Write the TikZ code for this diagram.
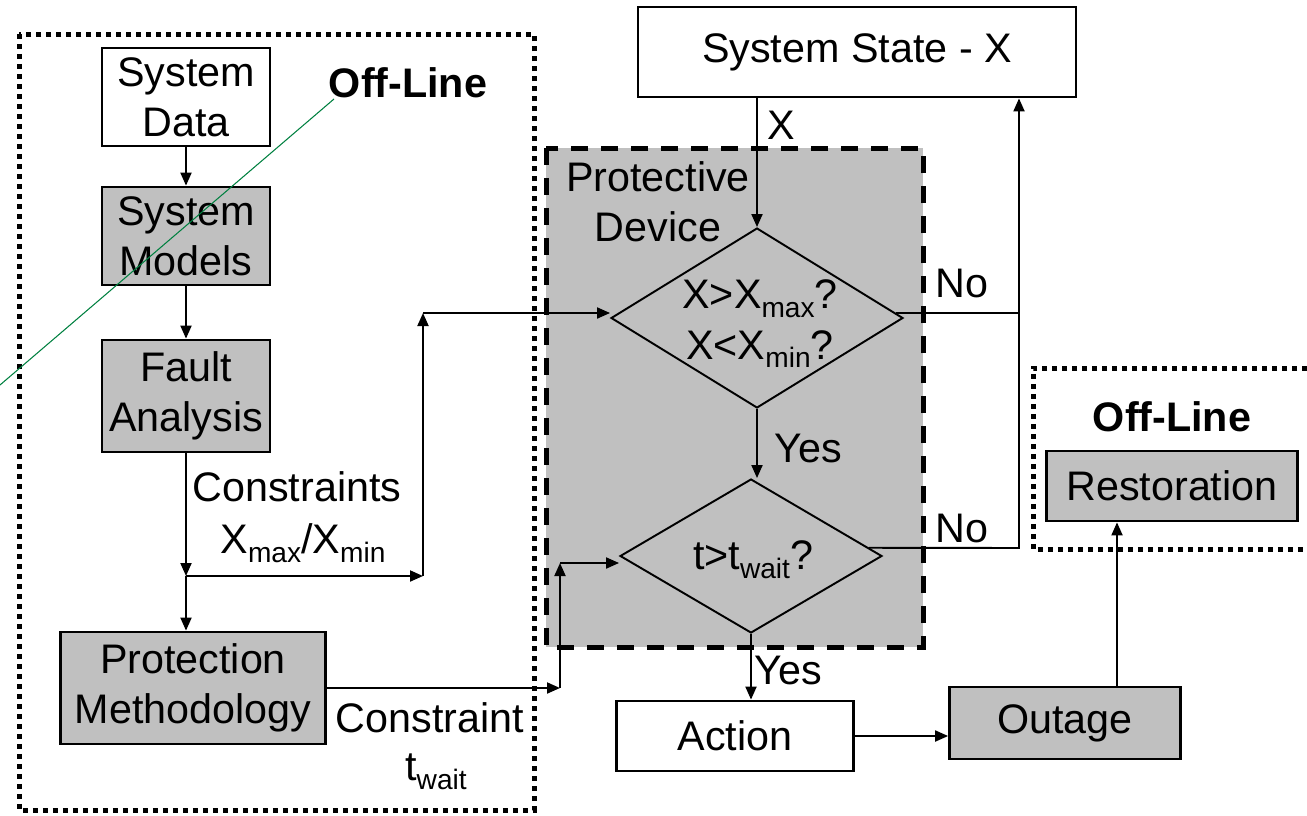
\documentclass[tikz,border=0pt]{standalone}
\usepackage{fontspec}
\setmainfont{Liberation Sans}
\usepackage{tikz}
\usetikzlibrary{shapes.geometric}
\usetikzlibrary{arrows.meta}
\definecolor{boxgray}{RGB}{192,192,192}
\definecolor{markgreen}{RGB}{0,128,64}
\newcommand{\lowtxt}[1]{\raisebox{-5pt}{\fontsize{16}{16}\selectfont #1}}

\begin{document}
\begin{tikzpicture}[x=0.02cm,y=-0.02cm]
			\tikzset{txt/.style = {font=\fontsize{23.5}{28.5}\selectfont, inner sep=0pt, align=center}}
			\tikzset{block/.style = {txt,shape=rectangle,draw,line width=1.6pt,fill=white}}
			\tikzset{blockGray/.style = {block,fill=boxgray}}
			\tikzset{decision/.style = {txt,shape=diamond,draw,line width=1.1pt,fill=boxgray}}
			\tikzset{edge/.style = {-{Triangle[length=0.26cm,width=0.22cm]}, line width=1.1pt}}
			\tikzset{link/.style = {line width=1.1pt}}
			\tikzset{offline/.style = {line width=0.1cm, dash pattern=on 0.1cm off 0.1cm}}
			\tikzset{device/.style = {fill=boxgray, line width=0.1cm, dash pattern=on 0.34cm off 0.26cm}}
			
			\useasboundingbox (0,0) rectangle (1307,815);
			
			% frames
			\draw[offline] (19,34) rectangle (534,810);
			\draw[offline] (1307,368) -- (1033,368) -- (1033,549) -- (1307,549);
			\draw[device] (546,148) rectangle (923,647);
			
			% blocks
			\node[block, minimum width=3.36cm, minimum height=1.96cm] (sysdata) at (186,97) {System\\Data};
			\node[blockGray, minimum width=3.36cm, minimum height=1.96cm] (sysmod) at (186,236) {System\\Models};
			\node[blockGray, minimum width=3.36cm, minimum height=2.24cm] (fault) at (186,396) {Fault\\Analysis};
			\node[blockGray, minimum width=5.3cm, minimum height=2.24cm] (protmeth) at (193,688) {Protection\\Methodology};
			\node[block, minimum width=8.76cm, minimum height=1.8cm] (state) at (857,52) {System State - X};
			\node[block, minimum width=4.74cm, minimum height=1.4cm] (action) at (735,736) {Action};
			\node[blockGray, minimum width=4.62cm, minimum height=1.44cm] (outage) at (1065,723) {Outage};
			\node[blockGray, minimum width=5.02cm, minimum height=1.4cm] (restor) at (1172,486) {Restoration};
			
			% decisions (text set on top, so the diamonds keep their size)
			\node[decision, minimum width=5.84cm, minimum height=3.6cm] (limits) at (757,318) {};
			\node[txt] (limitstxt) at (760,324) {X>X\lowtxt{max}?\\X<X\lowtxt{min}?};
			\node[decision, minimum width=5.24cm, minimum height=3.08cm] (wait) at (751,556) {};
			\node[txt] (waittxt) at (753,560) {t>t\lowtxt{wait}?};
			
			% labels
			\node[txt, font=\bfseries\fontsize{23.5}{28.5}\selectfont] (offleft) at (408,83) {Off-Line};
			\node[txt, font=\bfseries\fontsize{23.5}{28.5}\selectfont] (offright) at (1172,417) {Off-Line};
			\node[txt] (devlbl) at (658,202) {Protective\\Device};
			\node[txt] (xlbl) at (781,125) {X};
			\node[txt] (conslbl) at (297,487) {Constraints};
			\node[txt] (xlimlbl) at (303,543) {X\lowtxt{max}/X\lowtxt{min}};
			\node[txt] (constlbl) at (430,718) {Constraint};
			\node[txt] (twaitlbl) at (436,772) {t\lowtxt{wait}};
			\node[txt] (no1) at (962,283) {No};
			\node[txt] (no2) at (962,528) {No};
			\node[txt] (yes1) at (808,448) {Yes};
			\node[txt] (yes2) at (788,670) {Yes};
			
			% helper points
			\coordinate (junc) at (186,576);
			\coordinate (xlimA) at (423,576);
			\coordinate (xlimB) at (423,313);
			\coordinate (twA) at (560,688);
			\coordinate (twB) at (560,563);
			\coordinate (ret) at (1019,548);
			\coordinate (restup) at (1117,0);
			
			%edges
			\draw[edge] (sysdata) -- (sysmod);
			\draw[edge] (sysmod) -- (fault);
			\draw[edge] (fault.south -| junc) -- (junc);
			\draw[edge] (junc) -- (junc |- protmeth.north);
			\draw[edge] (junc) -- (xlimA);
			\draw[edge] (xlimA) -- (xlimB);
			\draw[edge] (xlimB) -- (xlimB -| limits.west);
			\draw[edge] (protmeth.east |- twA) -- (twA);
			\draw[edge] (twA) -- (twB);
			\draw[edge] (twB) -- (twB -| wait.west);
			
			\draw[edge] (limits.north |- state.south) -- (limits.north);
			\draw[edge] (limits.south) -- (limits.south |- wait.north);
			\draw[link] (limits.2) -- (limits.2 -| ret);
			\draw[edge] (wait.4) -- (ret) -- (ret |- state.south);
			\draw[edge] (wait.south) -- (wait.south |- action.north);
			\draw[edge] (action.east) -- (action.east -| outage.west);
			\draw[edge] (restup |- outage.north) -- (restup |- restor.south);
			
			\draw[markgreen, line width=0.6pt] (0,385) -- (334,99);
			
\end{tikzpicture}
\end{document}
